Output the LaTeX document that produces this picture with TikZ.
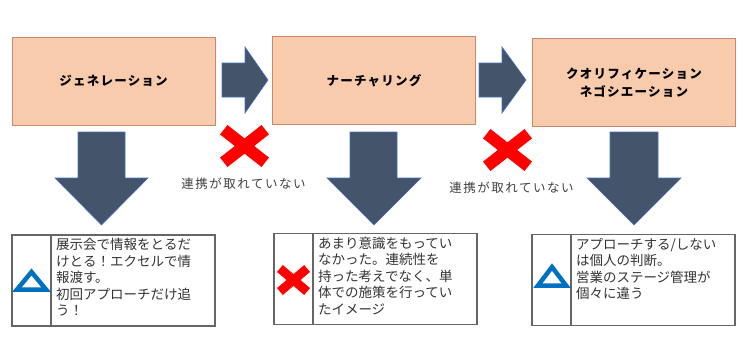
\documentclass[tikz,border=0pt]{standalone}
\usepackage{fontspec}
\setmainfont{Noto Sans CJK JP}
\newfontfamily\stagefont{Noto Sans CJK JP}[LetterSpace=10]
\newfontfamily\gapfont{Noto Sans CJK JP}[LetterSpace=12]
\usetikzlibrary{positioning}
\definecolor{stagefill}{HTML}{F8CBAD}
\definecolor{stageline}{HTML}{C8896B}
\definecolor{arrowfill}{HTML}{44546A}
\definecolor{arrowline}{HTML}{4472C4}
\definecolor{crossred}{HTML}{FF0000}
\definecolor{triblue}{HTML}{0070C0}
\definecolor{cellline}{HTML}{666666}
\definecolor{notetext}{HTML}{333333}
\definecolor{gaptext}{HTML}{404040}
\newcommand\notebody[1]{\parbox[c][84pt][t]{154pt}{\raggedright\fontsize{13.5}{16.5}\selectfont #1}}
\tikzset{
  stage/.style={draw=stageline, fill=stagefill, line width=0.8pt, minimum width=203pt,
    minimum height=88pt, inner sep=0pt, align=center,
    font=\stagefont\bfseries\fontsize{12.5}{18}\selectfont},
  iconcell/.style={draw=cellline, line width=1.2pt, fill=white, minimum width=39pt,
    minimum height=91pt, inner sep=0pt, outer sep=0pt},
  notecell/.style={draw=cellline, line width=1.2pt, fill=white, minimum width=164pt,
    minimum height=91pt, inner sep=0pt, outer sep=0pt, text=notetext},
  blockarrow/.style={fill=arrowfill, draw=arrowline, line width=0.6pt},
  crossmark/.style={draw=crossred, line width=12pt},
  smallcross/.style={draw=crossred, line width=9pt},
  tri/.style={draw=triblue, line width=4.5pt, line join=miter},
  gaplabel/.style={text=gaptext, font=\gapfont\fontsize{12.5}{15}\selectfont}
}
\begin{document}
\begin{tikzpicture}[x=1pt,y=-1pt]
    \useasboundingbox (0,0) rectangle (750,351);
    % stages
    \node[stage] (gen) at (113.5,81) {ジェネレーション};
    \node[stage] (nur) at (374,80.5) {ナーチャリング};
    \node[stage] (qual) at (634,82.5) {クオリフィケーション\\ネゴシエーション};
    % block arrows between stages
    \draw[blockarrow] (222,63) -- (245,63) -- (245,47) -- (268,80) -- (245,113) -- (245,97) -- (222,97) -- cycle;
    \draw[blockarrow] (479,63) -- (502,63) -- (502,47) -- (526,80) -- (502,113) -- (502,97) -- (479,97) -- cycle;
    % down arrows
    \draw[blockarrow] (78,132) -- (125,132) -- (125,178) -- (148,178) -- (101.5,225) -- (55,178) -- (78,178) -- cycle;
    \draw[blockarrow] (350,132) -- (397,132) -- (397,178) -- (421,178) -- (374,225) -- (327,178) -- (350,178) -- cycle;
    \draw[blockarrow] (610,132) -- (658,132) -- (658,178) -- (681,178) -- (634,225) -- (587,178) -- (610,178) -- cycle;
    % broken links
    \draw[crossmark] (223.75,129.7) -- ++(41.5,32.6) (223.75,162.3) -- ++(41.5,-32.6);
    \draw[crossmark] (486.75,133.7) -- ++(41.5,32.6) (486.75,166.3) -- ++(41.5,-32.6);
    \node[gaplabel] (gap1) at (243.5,184) {連携が取れていない};
    \node[gaplabel] (gap2) at (511.5,188) {連携が取れていない};
    % notes
    \node[iconcell] (genicon) at (31.5,280.5) {};
    \node[notecell, right=0pt of genicon] (gennote) {\notebody{展示会で情報をとるだ\\けとる！エクセルで情\\報渡す。\\初回アプローチだけ追\\う！}};
    \node[iconcell] (nuricon) at (293.5,279) {};
    \node[notecell, right=0pt of nuricon] (nurnote) {\notebody{あまり意識をもってい\\なかった。連続性を\\持った考えでなく、単\\体での施策を行ってい\\たイメージ}};
    \node[iconcell] (qualicon) at (551.5,280) {};
    \node[notecell, right=0pt of qualicon] (qualnote) {\notebody{アプローチする/しない\\は個人の判断。\\営業のステージ管理が\\個々に違う}};
    % marks
    \draw[tri] (31.5,272) -- (46,289.5) -- (17,289.5) -- cycle;
    \draw[smallcross] (279.9,268.5) -- ++(27.2,23) (279.9,291.5) -- ++(27.2,-23);
    \draw[tri] (552,267) -- (566,285.5) -- (538,285.5) -- cycle;
\end{tikzpicture}
\end{document}
